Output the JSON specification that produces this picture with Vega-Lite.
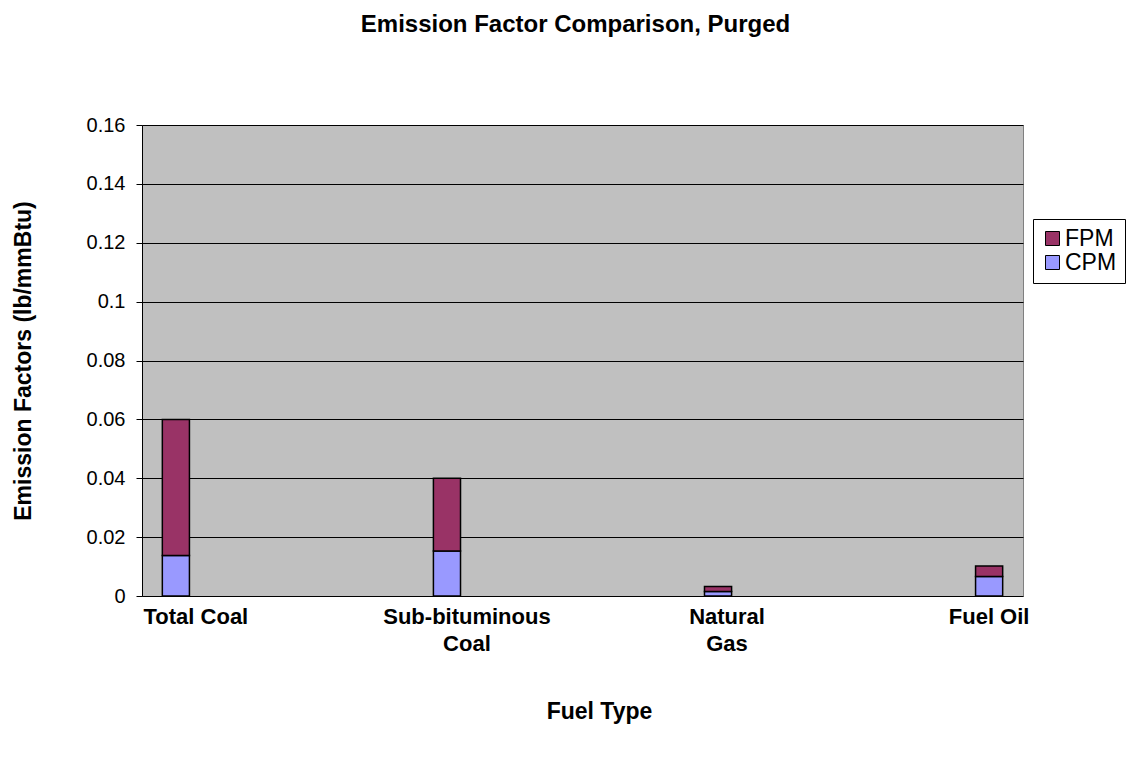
{
  "$schema": "https://vega.github.io/schema/vega-lite/v6.json",
  "autosize": {"type": "none"},
  "padding": {"left": 142, "top": 125, "right": 108, "bottom": 169},
  "width": 881,
  "height": 471,
  "background": "white",
  "title": {
    "text": "Emission Factor Comparison, Purged",
    "font": "Liberation Sans",
    "fontSize": 24,
    "fontWeight": "bold",
    "color": "black",
    "anchor": "middle",
    "frame": "group",
    "offset": 78,
    "dx": -7
  },
  "data": {
    "values": [
      {"fuel": "Total Coal", "series": "CPM", "value": 0.0138},
      {"fuel": "Total Coal", "series": "FPM", "value": 0.0462},
      {"fuel": "Sub-bituminous Coal", "series": "CPM", "value": 0.0153},
      {"fuel": "Sub-bituminous Coal", "series": "FPM", "value": 0.0247},
      {"fuel": "Natural Gas", "series": "CPM", "value": 0.0015},
      {"fuel": "Natural Gas", "series": "FPM", "value": 0.0017},
      {"fuel": "Fuel Oil", "series": "CPM", "value": 0.0066},
      {"fuel": "Fuel Oil", "series": "FPM", "value": 0.0036}
    ]
  },
  "mark": {"type": "bar", "stroke": "black", "strokeWidth": 1.5},
  "encoding": {
    "x": {
      "field": "fuel",
      "type": "nominal",
      "sort": ["Total Coal", "Sub-bituminous Coal", "Natural Gas", "Fuel Oil"],
      "scale": {"paddingInner": 0.9, "paddingOuter": 0.075},
      "axis": {
        "title": "Fuel Type",
        "titleFont": "Liberation Sans",
        "titleFontSize": 23,
        "titleFontWeight": "bold",
        "titleColor": "black",
        "titlePadding": 46,
        "titleX": 457,
        "labelFont": "Liberation Sans",
        "labelFontSize": 22,
        "labelFontWeight": "bold",
        "labelColor": "black",
        "labelAngle": 0,
        "labelPadding": 10,
        "labelLineHeight": 27,
        "labelOffset": {
          "condition": [
            {"test": "datum.value == 'Total Coal'", "value": 20},
            {"test": "datum.value == 'Sub-bituminous Coal'", "value": 20},
            {"test": "datum.value == 'Natural Gas'", "value": 9}
          ],
          "value": 0
        },
        "labelExpr": "datum.label == 'Sub-bituminous Coal' ? ['Sub-bituminous', 'Coal'] : datum.label == 'Natural Gas' ? ['Natural', 'Gas'] : datum.label",
        "ticks": false,
        "tickSize": 0,
        "domain": false,
        "grid": false
      }
    },
    "y": {
      "field": "value",
      "type": "quantitative",
      "stack": "zero",
      "scale": {"domain": [0, 0.16], "nice": false},
      "axis": {
        "title": "Emission Factors (lb/mmBtu)",
        "titleFont": "Liberation Sans",
        "titleFontSize": 23,
        "titleFontWeight": "bold",
        "titleColor": "black",
        "titlePadding": 51,
        "values": [0, 0.02, 0.04, 0.06, 0.08, 0.1, 0.12, 0.14, 0.16],
        "format": "~g",
        "labelFont": "Liberation Sans",
        "labelFontSize": 20,
        "labelColor": "black",
        "labelPadding": 11,
        "tickSize": 6,
        "tickColor": "black",
        "tickWidth": 1,
        "domainColor": "black",
        "domainWidth": 1,
        "grid": true,
        "gridColor": "black",
        "gridWidth": 1,
        "gridOpacity": 1
      }
    },
    "color": {
      "field": "series",
      "type": "nominal",
      "scale": {"domain": ["FPM", "CPM"], "range": ["#993366", "#9999FF"]},
      "legend": {
        "title": null,
        "orient": "none",
        "legendX": 891,
        "legendY": 94,
        "direction": "vertical",
        "strokeColor": "black",
        "fillColor": "white",
        "padding": 8,
        "symbolType": "square",
        "symbolSize": 196,
        "symbolStrokeColor": "black",
        "symbolStrokeWidth": 1,
        "symbolOpacity": 1,
        "labelFont": "Liberation Sans",
        "labelFontSize": 23,
        "labelColor": "black",
        "labelOffset": 1,
        "rowPadding": 0
      }
    },
    "order": {"field": "series", "sort": "ascending"}
  },
  "config": {
    "view": {"fill": "#C0C0C0", "stroke": "#808080", "strokeWidth": 1}
  }
}
